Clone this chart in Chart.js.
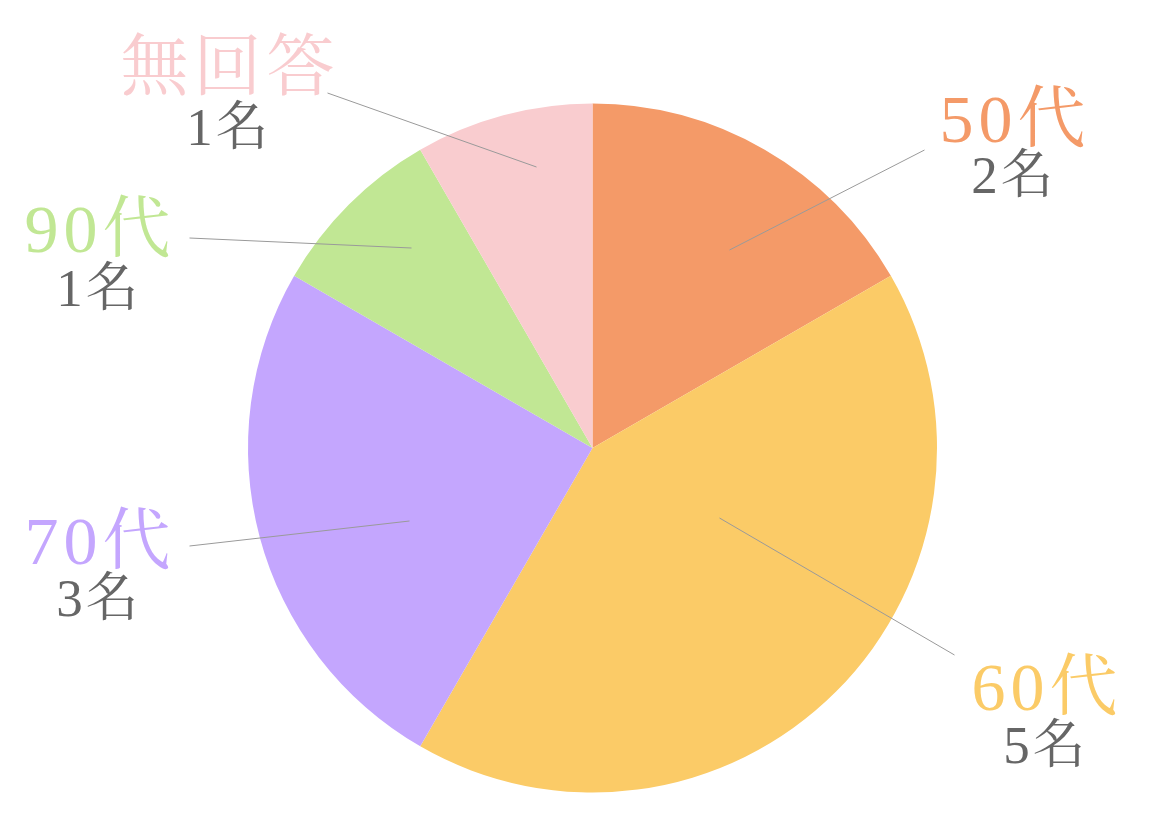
<!DOCTYPE html>
<html>
<head>
<meta charset="utf-8">
<script src="https://cdn.jsdelivr.net/npm/chart.js@4"></script>
<style>
    html, body { margin: 0; padding: 0; background: #fff; }
    #wrap { width: 1170px; height: 814px; }
</style>
</head>
<body>
<div id="wrap"><canvas id="ageChart"></canvas></div>
<script>
const categories = ['50代', '60代', '70代', '90代', '無回答'];
const counts = [2, 5, 3, 1, 1];
const countLabels = ['2名', '5名', '3名', '1名', '1名'];
const sliceColors = ['#F49A68', '#FBCB67', '#C4A6FE', '#C1E794', '#F9CCCF'];

// label block + leader line layout, offsets from pie centre in px
const labelLayout = [
    { tx: 420, ty: -324, gap: 55, from: [332, -298], to: [137, -198] },
    { tx: 452, ty: 244, gap: 57, from: [362, 207], to: [127, 70] },
    { tx: -495, ty: 98, gap: 56, from: [-403, 98], to: [-183, 73] },
    { tx: -495, ty: -214, gap: 58, from: [-403, -210], to: [-181, -200] },
    { tx: -365, ty: -376, gap: 59, from: [-265, -355], to: [-56, -281] }
];

const FONT = '"Liberation Serif", "Noto Serif CJK JP", "Noto Sans CJK JP", serif';

function spacedText(ctx, text, x, y, spacing) {
    ctx.letterSpacing = spacing + 'px';
    ctx.fillText(text, x + spacing / 2, y);
    ctx.letterSpacing = '0px';
}

const outerLabels = {
    id: 'outerLabels',
    afterDraw(chart) {
        const ctx = chart.ctx;
        const arcs = chart.getDatasetMeta(0).data;
        arcs.forEach((arc, i) => {
            const cx = arc.x, cy = arc.y;
            const l = labelLayout[i];
            ctx.save();
            ctx.strokeStyle = '#9a9a9a';
            ctx.lineWidth = 1;
            ctx.beginPath();
            ctx.moveTo(cx + l.from[0], cy + l.from[1]);
            ctx.lineTo(cx + l.to[0], cy + l.to[1]);
            ctx.stroke();

            ctx.textAlign = 'center';
            ctx.textBaseline = 'middle';
            ctx.fillStyle = sliceColors[i];
            ctx.font = '68px ' + FONT;
            spacedText(ctx, categories[i], cx + l.tx, cy + l.ty, 5);
            ctx.fillStyle = '#666666';
            ctx.font = '53px ' + FONT;
            spacedText(ctx, countLabels[i], cx + l.tx, cy + l.ty + l.gap, 3);
            ctx.restore();
        });
    }
};

const ctx = document.getElementById('ageChart').getContext('2d');
new Chart(ctx, {
    type: 'pie',
    data: {
        labels: categories,
        datasets: [{
            data: counts,
            backgroundColor: sliceColors,
            borderWidth: 0
        }]
    },
    options: {
        responsive: true,
        maintainAspectRatio: false,
        animation: false,
        layout: { padding: { top: 103, bottom: 21, left: 248, right: 233 } },
        plugins: {
            legend: { display: false },
            tooltip: { enabled: false }
        }
    },
    plugins: [outerLabels]
});
</script>
</body>
</html>
